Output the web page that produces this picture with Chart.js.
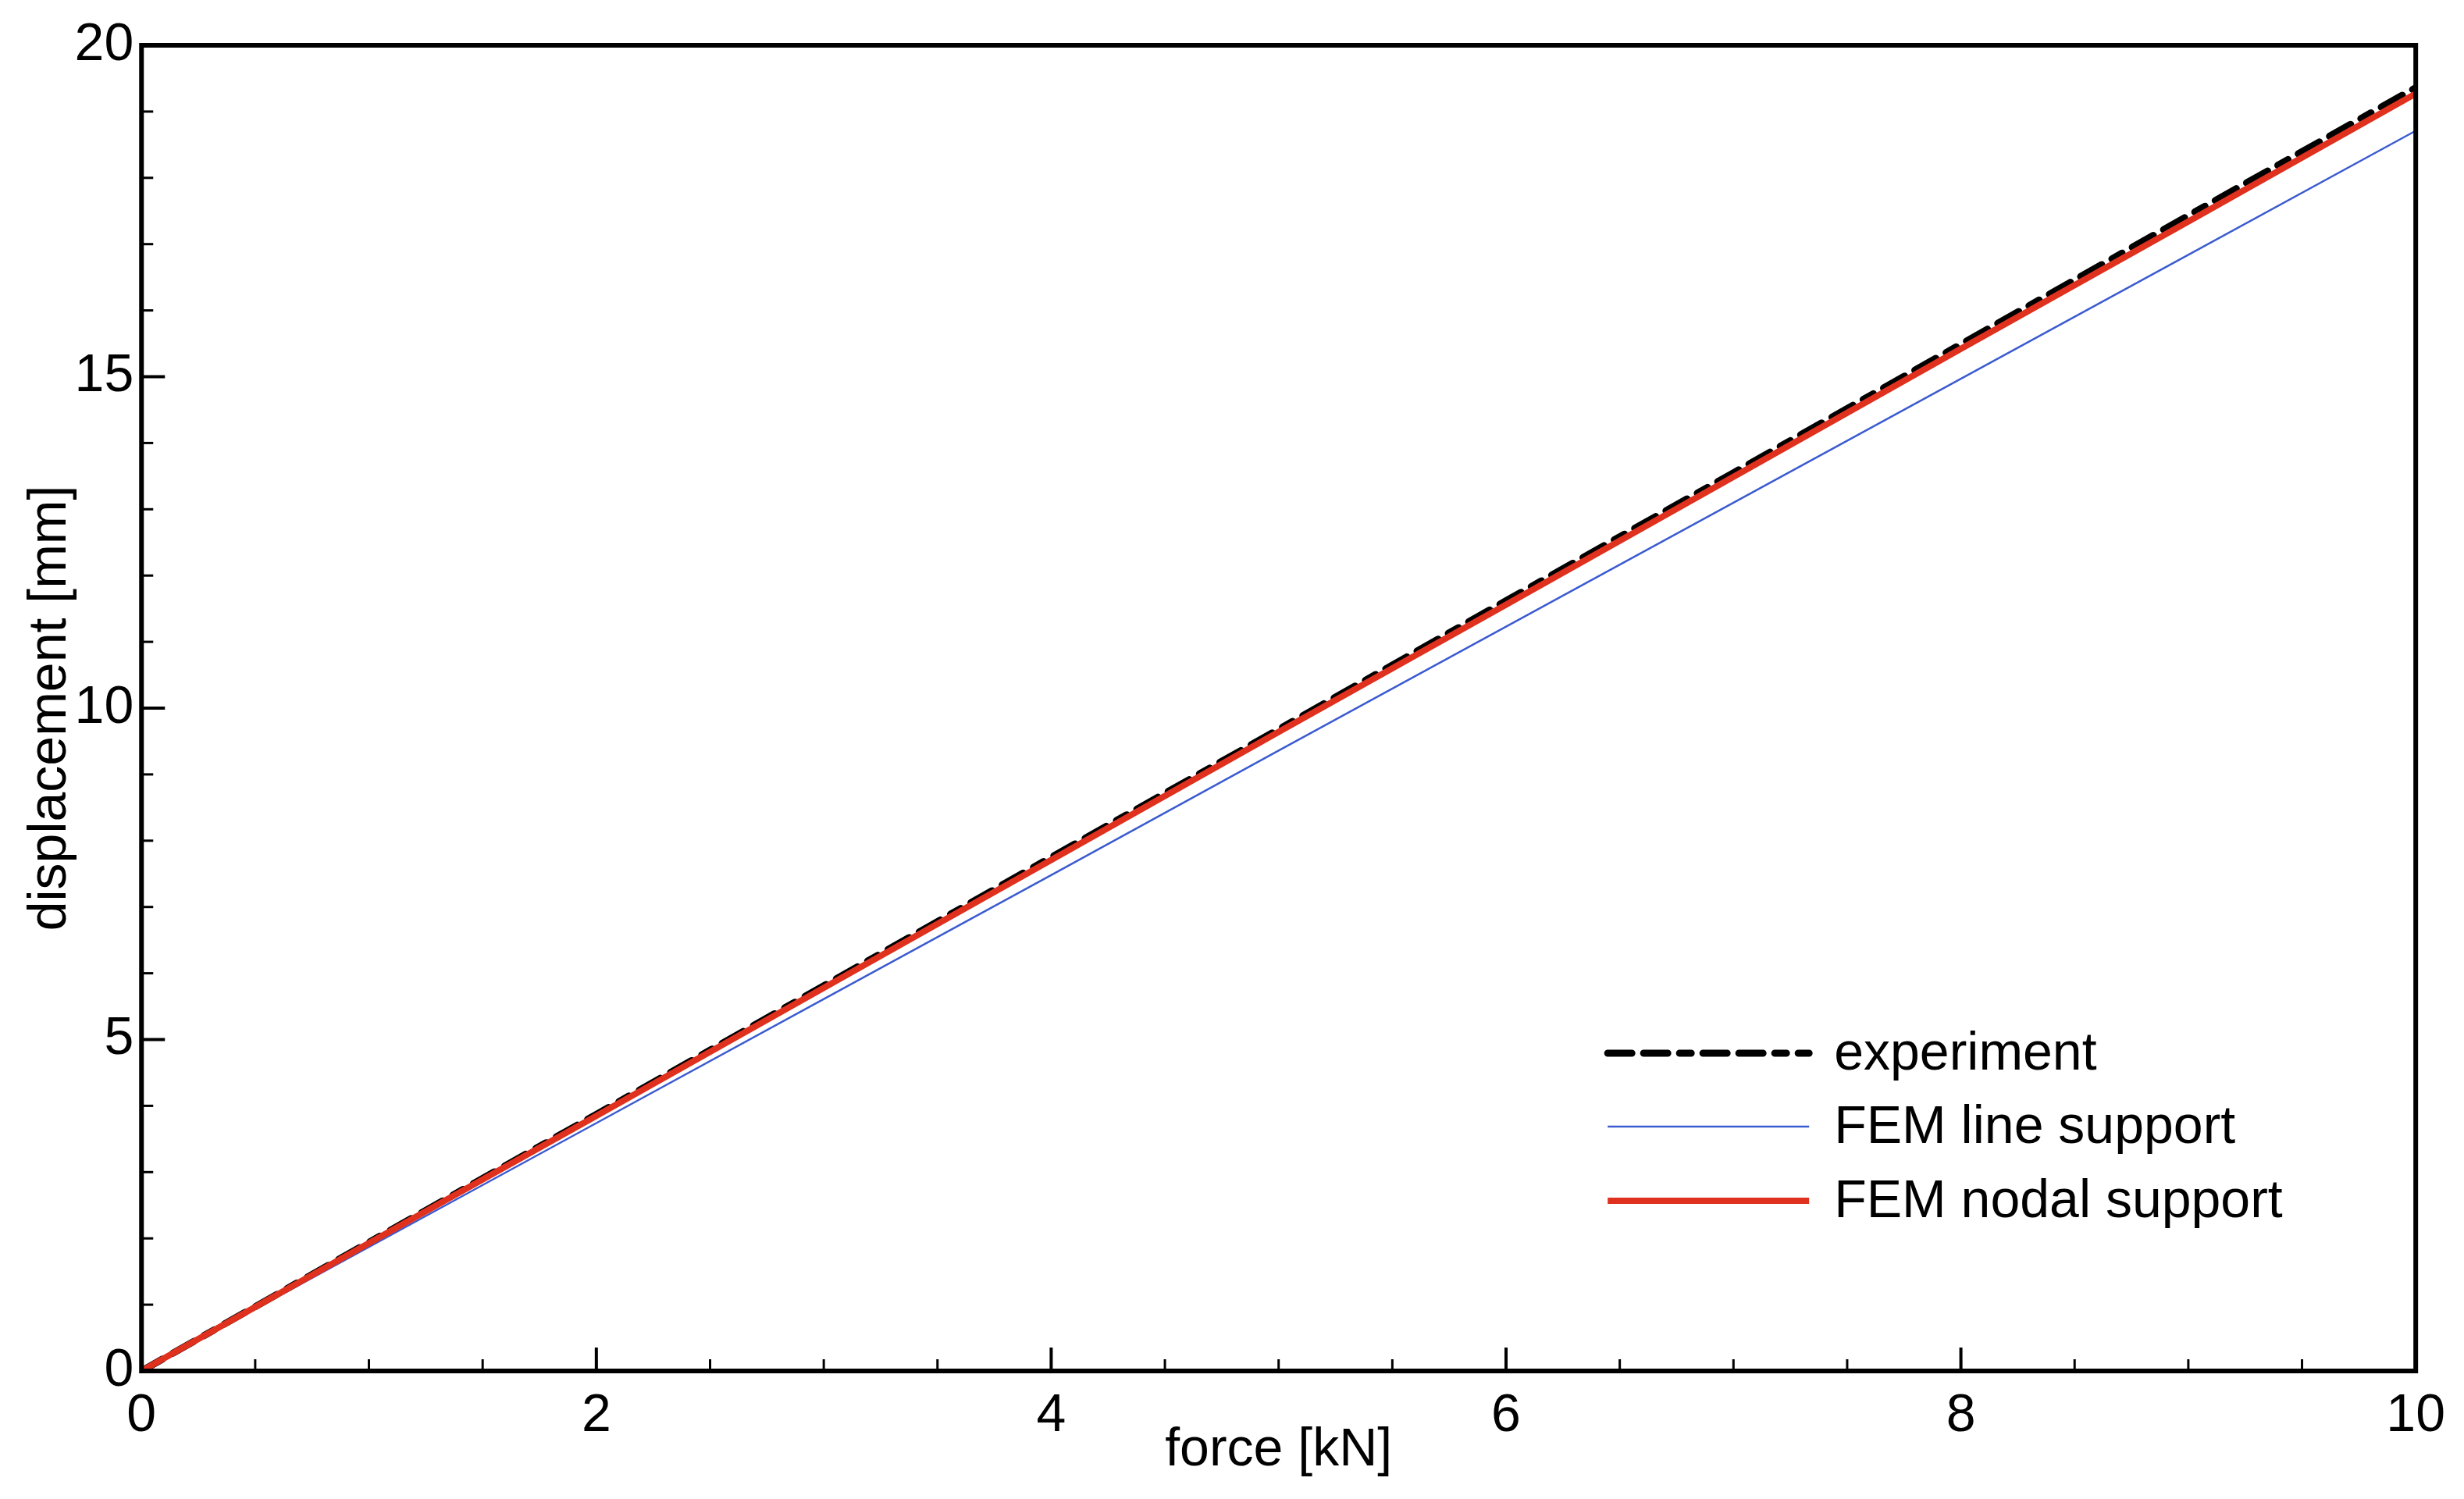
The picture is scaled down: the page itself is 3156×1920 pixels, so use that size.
<!DOCTYPE html>
<html>
<head>
<meta charset="utf-8">
<script src="https://cdn.jsdelivr.net/npm/chart.js@4/dist/chart.umd.min.js"></script>
<style>
  html, body { margin: 0; padding: 0; background: #ffffff; overflow: hidden; }
  #wrap { width: 3156px; height: 1920px; position: relative; }
</style>
</head>
<body>
<div id="wrap"><canvas id="chart"></canvas></div>
<script>
// force [kN] on x, displacement [mm] on y
const force = [0, 1, 2, 3, 4, 5, 6, 7, 8, 9, 10];
const experiment = [0, 1.94, 3.87, 5.81, 7.75, 9.68, 11.62, 13.55, 15.49, 17.43, 19.36];
const femLine = [0, 1.87, 3.74, 5.61, 7.48, 9.36, 11.23, 13.10, 14.97, 16.84, 18.71];
const femNodal = [0, 1.93, 3.85, 5.78, 7.71, 9.64, 11.56, 13.49, 15.42, 17.34, 19.27];

const seriesNames = ['experiment', 'FEM line support', 'FEM nodal support'];
const xTicks = [0, 2, 4, 6, 8, 10];
const yTicks = [0, 5, 10, 15, 20];

const FONT = "'Liberation Sans', Arial, Helvetica, sans-serif";

function toPoints(xs, ys) {
    return xs.map((x, i) => ({ x: x, y: ys[i] }));
}

// frame + inward ticks, drawn from the chart's own scales
const framePlugin = {
    id: 'frame',
    afterDraw(chart) {
        const ctx = chart.ctx;
        const a = chart.chartArea;
        const xs = chart.scales.x;
        const ys = chart.scales.y;
        ctx.save();
        ctx.strokeStyle = '#000000';
        ctx.lineCap = 'butt';

        // minor ticks
        ctx.lineWidth = 3;
        for (let v = 0; v <= 10; v += 0.5) {
            const px = xs.getPixelForValue(v);
            ctx.beginPath();
            ctx.moveTo(px, a.bottom);
            ctx.lineTo(px, a.bottom - 15);
            ctx.stroke();
        }
        for (let v = 0; v <= 20; v += 1) {
            const py = ys.getPixelForValue(v);
            ctx.beginPath();
            ctx.moveTo(a.left, py);
            ctx.lineTo(a.left + 15, py);
            ctx.stroke();
        }

        // major ticks
        ctx.lineWidth = 4;
        xTicks.forEach(v => {
            const px = xs.getPixelForValue(v);
            ctx.beginPath();
            ctx.moveTo(px, a.bottom);
            ctx.lineTo(px, a.bottom - 30);
            ctx.stroke();
        });
        yTicks.forEach(v => {
            const py = ys.getPixelForValue(v);
            ctx.beginPath();
            ctx.moveTo(a.left, py);
            ctx.lineTo(a.left + 30, py);
            ctx.stroke();
        });

        // box
        ctx.lineWidth = 6;
        ctx.strokeRect(a.left, a.top, a.right - a.left, a.bottom - a.top);
        ctx.restore();
    }
};

// legend in the lower right of the plot
const boxLegend = {
    id: 'boxLegend',
    afterDraw(chart, args, opts) {
        const ctx = chart.ctx;
        const a = chart.chartArea;
        ctx.save();
        chart.data.datasets.forEach((ds, i) => {
            const y = a.bottom - opts.rows[i];
            const x0 = a.right - opts.fromRight;
            ctx.strokeStyle = ds.borderColor;
            ctx.lineWidth = ds.borderWidth;
            ctx.lineCap = ds.borderCapStyle || 'butt';
            ctx.setLineDash(ds.borderDash || []);
            ctx.beginPath();
            ctx.moveTo(x0, y);
            ctx.lineTo(x0 + opts.sample, y);
            ctx.stroke();
            ctx.setLineDash([]);
            ctx.fillStyle = '#000000';
            ctx.font = opts.fontSize + 'px ' + FONT;
            ctx.textAlign = 'left';
            ctx.textBaseline = 'middle';
            ctx.fillText(ds.label, x0 + opts.sample + opts.gap, y + 2);
        });
        ctx.restore();
    }
};

const ctx = document.getElementById('chart').getContext('2d');
new Chart(ctx, {
    type: 'line',
    data: {
        datasets: [
            {
                label: seriesNames[0],
                data: toPoints(force, experiment),
                borderColor: '#000000',
                borderWidth: 9,
                borderDash: [31, 15, 31, 15, 15, 15],
                borderCapStyle: 'round',
                pointRadius: 0,
                fill: false,
                tension: 0,
                order: 2
            },
            {
                label: seriesNames[1],
                data: toPoints(force, femLine),
                borderColor: '#3b5bd0',
                borderWidth: 2.5,
                pointRadius: 0,
                fill: false,
                tension: 0,
                order: 1
            },
            {
                label: seriesNames[2],
                data: toPoints(force, femNodal),
                borderColor: '#e0301e',
                borderWidth: 8,
                pointRadius: 0,
                fill: false,
                tension: 0,
                order: 0
            }
        ]
    },
    options: {
        responsive: true,
        maintainAspectRatio: false,
        animation: false,
        layout: {
            padding: { top: 58, right: 58, bottom: 0, left: 0 }
        },
        plugins: {
            legend: { display: false },
            tooltip: { enabled: false },
            boxLegend: {
                fromRight: 1035,
                sample: 258,
                gap: 32,
                fontSize: 68,
                rows: [407, 313, 218]
            }
        },
        scales: {
            x: {
                type: 'linear',
                min: 0,
                max: 10,
                afterBuildTicks: scale => {
                    scale.ticks = xTicks.map(v => ({ value: v }));
                },
                grid: { display: false, drawTicks: false },
                border: { display: false },
                ticks: {
                    color: '#000000',
                    padding: 24,
                    maxRotation: 0,
                    font: { family: FONT, size: 68, lineHeight: 1.0 }
                },
                title: {
                    display: true,
                    text: 'force [kN]',
                    color: '#000000',
                    font: { family: FONT, size: 68, lineHeight: 1.0 },
                    padding: { top: -48, bottom: 28 }
                }
            },
            y: {
                type: 'linear',
                min: 0,
                max: 20,
                afterBuildTicks: scale => {
                    scale.ticks = yTicks.map(v => ({ value: v }));
                },
                grid: { display: false, drawTicks: false },
                border: { display: false },
                ticks: {
                    color: '#000000',
                    padding: 10,
                    font: { family: FONT, size: 68 }
                },
                title: {
                    display: true,
                    text: 'displacement [mm]',
                    color: '#000000',
                    font: { family: FONT, size: 68, lineHeight: 1.2 },
                    padding: { top: 24, bottom: -20 }
                }
            }
        }
    },
    plugins: [framePlugin, boxLegend]
});
</script>
</body>
</html>
